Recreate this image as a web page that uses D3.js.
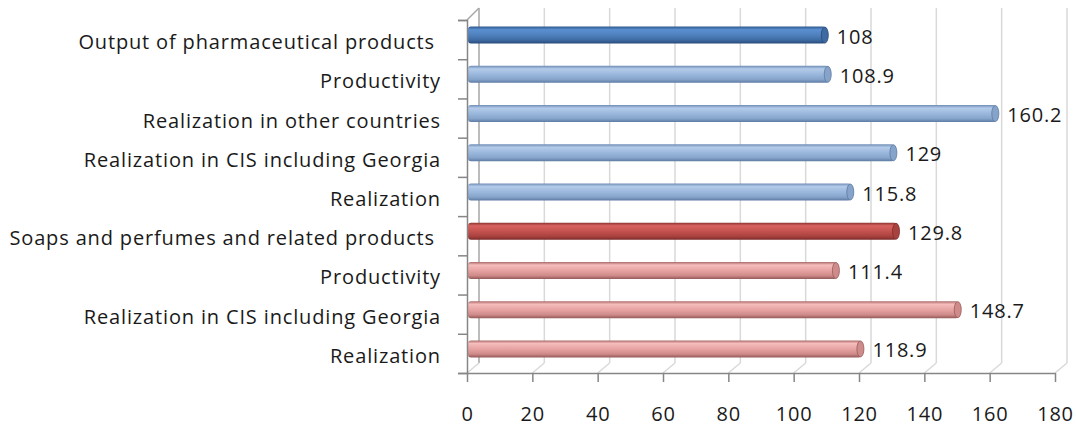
<!DOCTYPE html>
<html>
<head>
<meta charset="utf-8">
<script src="https://cdn.jsdelivr.net/npm/d3@7"></script>
<style>
  body { margin: 0; background: #fff; }
  text { font-family: "Open Sans", sans-serif; fill: #1a1a1a; white-space: pre; }
</style>
</head>
<body>
<script>
// chart data
var categories = ["Output of pharmaceutical products ", "Productivity", "Realization in other countries",
  "Realization in CIS including Georgia", "Realization", "Soaps and perfumes and related products ",
  "Productivity", "Realization in CIS including Georgia", "Realization"];
var values = [108, 108.9, 160.2, 129, 115.8, 129.8, 111.4, 148.7, 118.9];
var barKinds = ["darkBlue", "lightBlue", "lightBlue", "lightBlue", "lightBlue", "darkRed", "pink", "pink", "pink"];
var xTicks = [0, 20, 40, 60, 80, 100, 120, 140, 160, 180];

var W = 1076, H = 427;
var depthX = 12, depthY = -10;

var svg = d3.select("body").append("svg").attr("width", W).attr("height", H);

var x = d3.scaleLinear().domain([0, 180]).range([467, 1055]);
var y = d3.scaleBand().domain(d3.range(categories.length)).range([20, 373]);

// gradients for the cylinder look
var palettes = {
  darkBlue:  ["#2f5a8e", "#5b8fd0", "#4f81bd", "#3d6aa1", "#27487a"],
  lightBlue: ["#6f8db6", "#b4cbea", "#9ab7dc", "#86a3ca", "#5d7aa3"],
  darkRed:   ["#8c3431", "#d8625f", "#c4524f", "#a9423f", "#7b2c2a"],
  pink:      ["#a86866", "#f5bdbc", "#e6a3a2", "#cf8b8a", "#955a59"]
};
var defs = svg.append("defs");
Object.keys(palettes).forEach(function (k) {
  var p = palettes[k];
  var g = defs.append("linearGradient").attr("id", "g-" + k).attr("x1", 0).attr("y1", 0).attr("x2", 0).attr("y2", 1);
  [[0, p[0]], [0.18, p[1]], [0.5, p[2]], [0.8, p[3]], [1, p[4]]].forEach(function (s) {
    g.append("stop").attr("offset", s[0]).attr("stop-color", s[1]);
  });
});

// back wall gridlines + floor diagonals
var grid = svg.append("g");
xTicks.forEach(function (t) {
  grid.append("line").attr("x1", x(t) + depthX).attr("x2", x(t) + depthX)
    .attr("y1", 373 + depthY).attr("y2", 20 + depthY - 2)
    .attr("stroke", t === 0 ? "#a6a6a6" : "#d9d9d9").attr("stroke-width", 1.5);
  grid.append("line").attr("x1", x(t)).attr("x2", x(t) + depthX)
    .attr("y1", 373).attr("y2", 373 + depthY)
    .attr("stroke", "#d9d9d9").attr("stroke-width", 1.5);
});
grid.append("line").attr("x1", x(0)).attr("y1", 20).attr("x2", x(0) + depthX).attr("y2", 20 + depthY - 2)
  .attr("stroke", "#a6a6a6").attr("stroke-width", 1.5);

// bars
var bh = 17, off = 6;
var bars = svg.append("g").selectAll("g").data(values).join("g");
bars.append("rect")
  .attr("x", x(0) + 1)
  .attr("y", function (d, i) { return y(i) + y.bandwidth() / 2 - 4.5 - bh / 2; })
  .attr("width", function (d) { return x(d) + off - x(0) - 1; })
  .attr("height", bh)
  .attr("rx", 3)
  .attr("fill", function (d, i) { return "url(#g-" + barKinds[i] + ")"; });
bars.append("ellipse")
  .attr("cx", function (d) { return x(d) + off - 1; })
  .attr("cy", function (d, i) { return y(i) + y.bandwidth() / 2 - 4.5; })
  .attr("rx", 3.5).attr("ry", bh / 2 - 0.5)
  .attr("fill", function (d, i) { return palettes[barKinds[i]][3]; })
  .attr("stroke", function (d, i) { return palettes[barKinds[i]][4]; })
  .attr("stroke-width", 0.8);

// value labels
bars.append("text")
  .attr("x", function (d) { return x(d) + off + 11; })
  .attr("y", function (d, i) { return y(i) + y.bandwidth() / 2 - 3; })
  .attr("dy", "0.35em")
  .style("font-size", "20px")
  .style("letter-spacing", "0.8px")
  .text(function (d) { return String(d); });

// left axis (category boundaries)
var yTick = d3.scaleLinear().domain([0, categories.length]).range([20, 373]);
var leftAxis = svg.append("g").attr("transform", "translate(" + x(0) + ",0)")
  .call(d3.axisLeft(yTick).ticks(categories.length).tickSize(9).tickFormat(""));
leftAxis.select(".domain").attr("stroke", "#868686").attr("stroke-width", 1.5);
leftAxis.selectAll(".tick line").attr("stroke", "#868686").attr("stroke-width", 1.5);

// category labels
svg.append("g").selectAll("text").data(categories).join("text")
  .attr("x", 441)
  .attr("y", function (d, i) { return y(i) + y.bandwidth() / 2 + 2.5; })
  .attr("dy", "0.35em")
  .attr("text-anchor", "end")
  .style("font-size", "20px")
  .style("letter-spacing", "0.85px")
  .text(function (d) { return d; });

// bottom axis
var bottomAxis = svg.append("g").attr("transform", "translate(0,373)")
  .call(d3.axisBottom(x).tickValues(xTicks).tickSize(9).tickPadding(25).tickSizeOuter(0));
bottomAxis.select(".domain").attr("stroke", "#868686").attr("stroke-width", 1.5);
bottomAxis.selectAll(".tick line").attr("stroke", "#868686").attr("stroke-width", 1.5);
bottomAxis.selectAll(".tick text").style("font-size", "20px").style("letter-spacing", "0.8px")
  .style("font-family", "Open Sans, sans-serif").attr("fill", "#1a1a1a");
</script>
</body>
</html>
